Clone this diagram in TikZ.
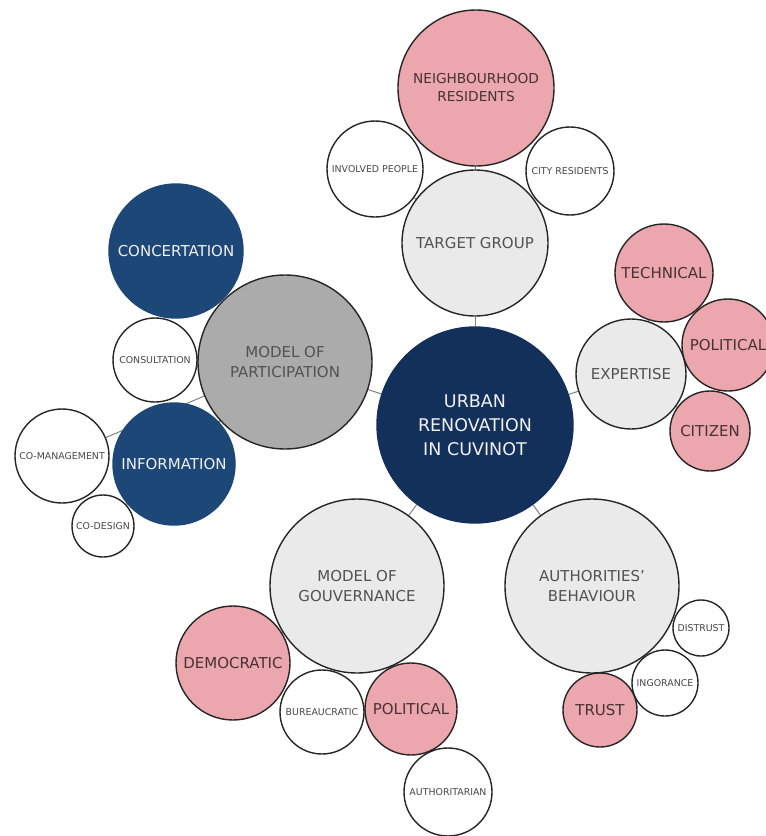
\documentclass[tikz,border=0pt]{standalone}
\usepackage{fontspec}
\setmainfont{DejaVu Sans}
\usetikzlibrary{backgrounds}
\definecolor{navy}{HTML}{13305A}
\definecolor{steel}{HTML}{1C4776}
\definecolor{rose}{HTML}{ECA6AE}
\definecolor{pale}{HTML}{EAEAEA}
\definecolor{mid}{HTML}{ABABAB}

\begin{document}
\begin{tikzpicture}[bubble/.style={circle,draw=black!85,line width=1.4pt,inner sep=0pt,align=center,font=\fontsize{15}{20}\selectfont},
  core/.style={bubble,fill=navy,draw=navy,text=white!94!black,font=\fontsize{17.5}{24}\selectfont},
  dark/.style={bubble,fill=steel,draw=steel,text=white!94!black},
  grey/.style={bubble,fill=mid,text=black!68},
  light/.style={bubble,fill=pale,text=black!68},
  pink/.style={bubble,fill=rose,text=rose!30!black},
  plain/.style={bubble,fill=white,text=black!72,font=\fontsize{9.4}{11}\selectfont},
  link/.style={draw=black!50,line width=1pt}]
  \useasboundingbox (0pt,0pt) rectangle (766pt,-836pt);
  \draw (475pt, -425pt)node[core, minimum size=196pt](0){URBAN\\RENOVATION\\IN CUVINOT};
  \draw (475pt, -243pt)node[light, minimum size=146pt](1){TARGET GROUP};
  \draw (476pt, -88pt)node[pink, minimum size=156pt, font=\fontsize{13.7}{18}\selectfont](2){NEIGHBOURHOOD\\RESIDENTS};
  \draw (375pt, -169pt)node[plain, minimum size=96pt](3){INVOLVED PEOPLE};
  \draw (570pt, -171pt)node[plain, minimum size=88pt](4){CITY RESIDENTS};
  \draw (631pt, -374pt)node[light, minimum size=110pt](5){EXPERTISE};
  \draw (664pt, -273pt)node[pink, minimum size=98pt](6){TECHNICAL};
  \draw (728pt, -345pt)node[pink, minimum size=92pt](7){POLITICAL};
  \draw (710pt, -431pt)node[pink, minimum size=80pt](8){CITIZEN};
  \draw (285pt, -362pt)node[grey, minimum size=174pt](9){MODEL OF\\PARTICIPATION};
  \draw (176pt, -251pt)node[dark, minimum size=134pt](10){CONCERTATION};
  \draw (155pt, -360pt)node[plain, minimum size=84pt](11){CONSULTATION};
  \draw (174pt, -464pt)node[dark, minimum size=122pt](12){INFORMATION};
  \draw (62pt, -456pt)node[plain, minimum size=94pt](13){CO-MANAGEMENT};
  \draw (103pt, -526pt)node[plain, minimum size=62pt](14){CO-DESIGN};
  \draw (357pt, -586pt)node[light, minimum size=174pt](15){MODEL OF\\GOUVERNANCE};
  \draw (233pt, -663pt)node[pink, minimum size=114pt](16){DEMOCRATIC};
  \draw (322pt, -712pt)node[plain, minimum size=84pt](17){BUREAUCRATIC};
  \draw (411pt, -709pt)node[pink, minimum size=92pt](18){POLITICAL};
  \draw (448pt, -792pt)node[plain, minimum size=88pt](19){AUTHORITARIAN};
  \draw (592pt, -586pt)node[light, minimum size=174pt](20){AUTHORITIES'\\BEHAVIOUR};
  \draw (701pt, -628pt)node[plain, minimum size=56pt](21){DISTRUST};
  \draw (665pt, -683pt)node[plain, minimum size=66pt](22){INGORANCE};
  \draw (600pt, -710pt)node[pink, minimum size=74pt](23){TRUST};
  \begin{scope}[on background layer]
    \path[link] (0) edge (1) edge (5) edge (9) edge (15) edge (20);
    \path[link] (1) edge (2) edge (3) edge (4);
    \path[link] (5) edge (6) edge (7) edge (8);
    \path[link] (9) edge (10) edge (11) edge (12) edge (13) edge (14);
    \path[link] (15) edge (16) edge (17) edge (18) edge (19);
    \path[link] (20) edge (21) edge (22) edge (23);
  \end{scope}
\end{tikzpicture}
\end{document}
